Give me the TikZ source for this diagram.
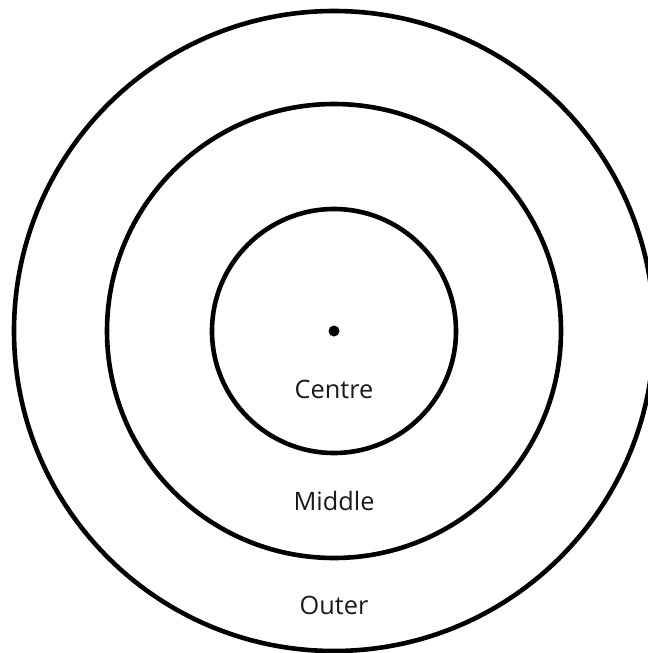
\documentclass[tikz,border=0pt]{standalone}
\usepackage{fontspec}
\setmainfont{Open Sans}
\usepackage{tikz}

\begin{document}
\begin{tikzpicture}[x=0.025cm,y=-0.025cm]
\tikzset{ring/.style={line width=0.115cm},
zonelabel/.style={font=\fontsize{18}{21}\selectfont,text=black!90}}
\useasboundingbox (0,0) rectangle (648,653);
% Three rings round one centre
\coordinate (c) at (334,331);
\draw[ring] (c) circle (320);
\draw[ring] (c) circle (227);
\draw[ring] (c) circle (122);
\fill (c) circle (5.5);
% Zone names
\node[zonelabel] (centre) at (334,389) {Centre};
\node[zonelabel] (middle) at (334,501) {Middle};
\node[zonelabel] (outer) at (334,605) {Outer};
\end{tikzpicture}
\end{document}
